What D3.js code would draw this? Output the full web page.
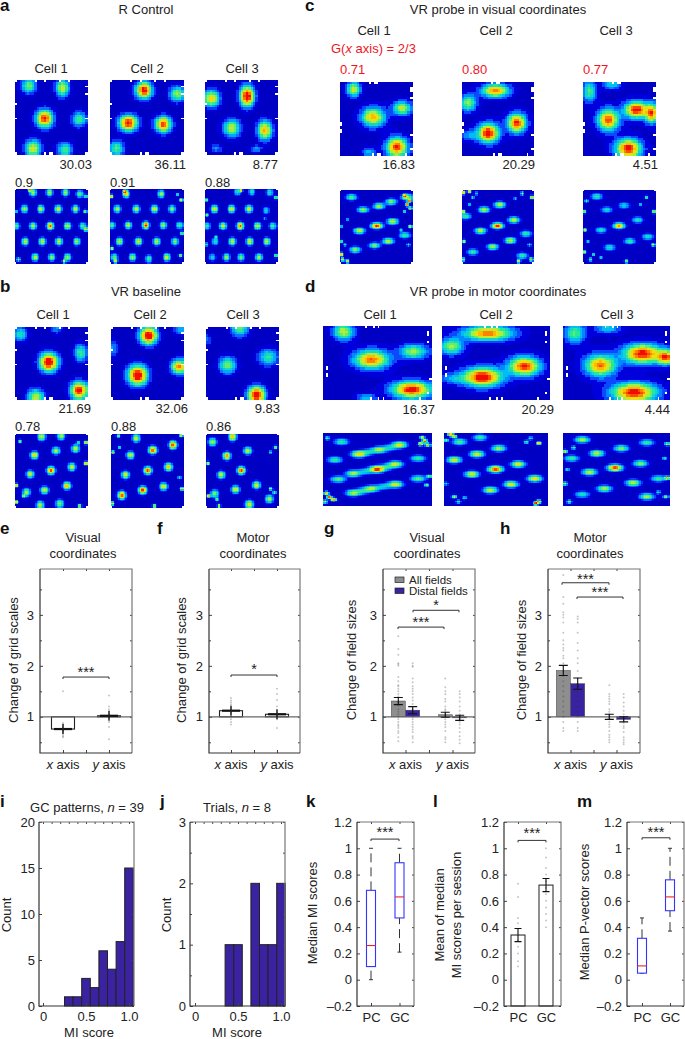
<!DOCTYPE html>
<html><head><meta charset="utf-8">
<script src="https://cdn.jsdelivr.net/npm/d3@7"></script>
<style>
html,body{margin:0;padding:0;background:#fff;overflow:hidden}
svg{display:block}
text{font-family:"Liberation Sans",Arial,sans-serif;font-size:13px;fill:#222}
.letter{font-size:17px;font-weight:700;fill:#111}
</style></head><body>
<svg id="fig" width="685" height="1039"></svg>
<script>
// ---------- heat-map field peaks: [x, y, sx, sy, level]
const aTop1=[[.19,.08,.06,.06,.55],[.66,.11,.055,.07,.7],[.41,.52,.07,.07,1.05],[.89,.53,.06,.06,.5],[.25,.92,.065,.065,.7],[.69,.94,.06,.06,.5]];
const aTop2=[[.465,.14,.065,.065,1.1],[.92,.19,.06,.06,.6],[.25,.58,.075,.065,1.1],[.73,.6,.065,.065,1],[.09,.92,.06,.06,.5]];
const aTop3=[[.09,.25,.065,.065,.8],[.585,.22,.06,.08,1.15],[.37,.65,.07,.07,.65],[.83,.68,.06,.075,.85],[.16,.92,.05,.03,.25],[.71,.93,.05,.03,.25]];
const bTop1=[[.07,.1,.06,.06,.4],[.47,.49,.075,.075,1.2],[.91,.36,.05,.07,.5],[.89,.88,.07,.07,1.1],[.29,.98,.07,.07,.65],[.58,.01,.05,.05,.25]];
const bTop2=[[.52,.12,.07,.07,1.2],[.37,.67,.08,.08,1.2],[.94,.55,.06,.06,.9],[.96,.03,.05,.05,.3],[.03,.3,.04,.07,.25]];
const bTop3=[[.47,.01,.07,.07,.55],[.86,.42,.08,.07,.45],[.3,.53,.07,.07,.55],[.7,.94,.07,.07,1.15],[.02,.18,.03,.05,.2]];
const cTop1=[[.19,.1,.06,.06,.7],[.46,.48,.1,.08,.85],[.86,.36,.08,.06,.65],[.79,.89,.09,.08,1.05],[.4,.96,.06,.04,.3]];
const cTop2=[[.47,.12,.12,.055,.9],[.09,.29,.07,.07,.6],[.37,.7,.09,.08,1.15],[.77,.56,.08,.08,1.05],[.1,.73,.08,.05,.25]];
const cTop3=[[.09,.13,.06,.09,.5],[.4,.02,.08,.05,.4],[.35,.52,.09,.09,1],[.74,.38,.1,.07,1.1],[.95,.43,.05,.08,.9],[.63,.91,.11,.08,1.1]];
const dTop1=[[.19,.08,.06,.07,.65],[.45,.46,.1,.08,.95],[.84,.35,.08,.06,.6],[.82,.87,.11,.07,1.1],[.4,.98,.06,.04,.3]];
const dTop2=[[.43,.1,.14,.06,.95],[.09,.28,.07,.07,.6],[.38,.7,.11,.08,1.15],[.77,.55,.09,.08,1.05],[.1,.72,.08,.05,.25]];
const dTop3=[[.11,.1,.06,.09,.5],[.42,.03,.08,.05,.35],[.35,.54,.09,.09,.95],[.75,.38,.11,.08,1.1],[.97,.43,.05,.06,.9],[.67,.91,.13,.08,1.1]];
// autocorrelation peaks: [x, y, level]
const aAuto1=[[.25,.05,.6],[.48,.05,.6],[.7,.05,.6],[.9,.07,.5],[.13,.27,.6],[.36,.27,.65],[.6,.27,.7],[.84,.27,.65],[.02,.5,.5],[.25,.5,.65],[.49,.5,1],[.73,.5,.7],[.94,.5,.5],[.14,.71,.65],[.38,.71,.65],[.61,.71,.65],[.86,.71,.6],[.28,.92,.65],[.51,.92,.6],[.73,.92,.6]];
const aAuto2=[[.22,.07,.7],[.7,.07,.6],[.1,.27,.6],[.36,.27,.65],[.61,.27,.7],[.85,.27,.55],[.03,.49,.5],[.25,.49,.7],[.49,.49,1],[.73,.49,.65],[.95,.49,.5],[.13,.71,.65],[.39,.71,.7],[.64,.71,.65],[.89,.71,.55],[.06,.92,.5],[.31,.92,.6],[.53,.94,.5],[.78,.92,.7]];
const aAuto3=[[.45,.04,.4],[.65,.04,.4],[.9,.05,.4],[.13,.27,.7],[.37,.27,.7],[.61,.27,.7],[.85,.29,.35],[.03,.5,.45],[.25,.5,.7],[.49,.5,1],[.73,.5,.7],[.94,.5,.5],[.14,.71,.4],[.38,.71,.65],[.62,.71,.7],[.86,.71,.65],[.1,.92,.35],[.3,.92,.6],[.5,.92,.55],[.75,.92,.6]];
const bAuto1=[[.37,.04,.65],[.64,.03,.6],[.27,.29,.75],[.57,.23,.6],[.84,.2,.65],[.21,.55,.65],[.5,.5,1],[.79,.45,.65],[.16,.8,.6],[.41,.77,.65],[.72,.71,.8],[.35,.97,.6],[.62,.95,.55]];
const bAuto2=[[.35,.06,.65],[.86,.15,.95],[.58,.22,.95],[.27,.29,.65],[.8,.45,.8],[.51,.5,1],[.2,.56,.7],[.73,.72,.7],[.44,.77,1],[.15,.84,.95]];
const bAuto3=[[.37,.04,.8],[.09,.11,.6],[.58,.23,.65],[.29,.3,.85],[.49,.5,1],[.21,.56,.65],[.7,.7,.7],[.41,.76,.7],[.12,.82,.55],[.6,.96,.7],[.88,.89,.6]];
const cAuto1=[[.16,.1,.5],[.71,.16,.55],[.32,.27,.6],[.54,.22,.6],[.27,.56,.65],[.51,.49,1],[.73,.43,.65],[.21,.82,.55],[.48,.76,.55],[.67,.7,.65],[.9,.62,.45],[.93,.1,.6]];
const cAuto2=[[.53,.2,.65],[.31,.27,.65],[.05,.36,.45],[.73,.41,.65],[.5,.49,1],[.26,.56,.65],[.68,.69,.65],[.43,.78,.6],[.15,.85,.45],[.9,.6,.45],[.85,.9,.45]];
const cAuto3=[[.19,.09,.45],[.33,.27,.4],[.57,.21,.35],[.25,.55,.4],[.5,.49,.85],[.76,.41,.4],[.65,.7,.45],[.37,.79,.4],[.9,.64,.4]];
const dAuto1=[[.33,.29,.75],[.52,.23,.6],[.71,.16,.7],[.42,.26,.3],[.62,.2,.3],[.11,.37,.45],[.88,.35,.45],[.14,.64,.5],[.28,.56,.6],[.5,.5,1],[.67,.43,.65],[.39,.53,.3],[.59,.47,.3],[.28,.83,.6],[.45,.77,.6],[.67,.71,.7],[.88,.63,.5],[.37,.8,.3],[.56,.74,.3],[.17,.12,.45]];
const dAuto2=[[.32,.29,.7],[.53,.21,.6],[.1,.37,.7],[.72,.43,.7],[.5,.5,1],[.27,.57,.7],[.88,.63,.75],[.65,.71,.7],[.45,.79,.65],[.15,.12,.5],[.35,.06,.45]];
const dAuto3=[[.18,.09,.6],[.32,.28,.65],[.55,.21,.55],[.79,.13,.45],[.08,.35,.45],[.73,.42,.55],[.49,.48,1],[.25,.54,.65],[.66,.69,.65],[.9,.63,.45],[.39,.77,.6],[.18,.85,.4],[.79,.88,.6]];
// hot / noisy pixels along autocorrelation borders: [x, y, level]
const specksA1=[[.2,.01,.9],[.98,.55,.7],[.05,.95,.7],[.97,.3,.6],[.68,.97,.7],[.98,.1,.5],[.02,.3,.4]];
const specksA2=[[.02,.1,.9],[.97,.15,.7],[.96,.9,.7],[.03,.8,.7],[.98,.6,.6],[.08,.97,.6],[.2,.04,.8],[.92,.08,.5]];
const specksA3=[[.02,.15,.6],[.98,.12,.6],[.03,.35,.5],[.02,.75,.5],[.5,.02,.8],[.98,.9,.6],[.15,.65,.35],[.83,.4,.3]];
const specksB1=[[.02,.7,.9],[.98,.4,.9],[.02,.93,.9],[.98,.12,.8],[.9,.98,.7],[.07,.1,.6],[.12,.85,.5],[.88,.12,.5]];
const specksB2=[[.03,.25,.8],[.98,.75,.8],[.02,.95,.9],[.97,.02,.7],[.6,.98,.7],[.12,.18,.5],[.95,.6,.5],[.1,.03,.6]];
const specksB3=[[.03,.4,.7],[.96,.18,.7],[.04,.85,.9],[.9,.75,.7],[.18,.98,.8],[.95,.8,.6],[.9,.25,.5],[.15,.9,.5]];
const specksC1=[[.96,.15,.9],[.93,.2,1],[.02,.88,1],[.04,.95,.9],[.97,.5,.7],[.9,.08,.7],[.1,.97,.7],[.02,.7,.6],[.97,.25,.8],[.9,.3,.5],[.02,.5,.4],[.95,.75,.5],[.07,.75,.4],[.1,.4,.35],[.85,.55,.35]];
const specksC2=[[.02,.04,1],[.1,.02,.9],[.98,.1,.8],[.02,.3,.8],[.03,.7,.7],[.97,.95,.8],[.8,.97,.7],[.15,.1,.5],[.85,.05,.7],[.75,.12,.4],[.02,.95,.7],[.95,.75,.5],[.2,.05,.4],[.1,.2,.4]];
const specksC3=[[.02,.3,.7],[.03,.55,.7],[.02,.85,.7],[.98,.3,.7],[.97,.75,.7],[.1,.95,.6],[.6,.97,.6],[.07,.7,.4],[.14,.88,.5],[.25,.92,.4],[.88,.1,.6],[.8,.2,.4],[.05,.15,.5]];
const specksD1=[[.94,.11,1],[.9,.15,.9],[.97,.16,.9],[.03,.83,1],[.06,.89,1],[.1,.92,.9],[.98,.6,.6],[.92,.06,.7],[.02,.95,.7],[.96,.72,.5],[.04,.07,.5]];
const specksD2=[[.06,.02,1],[.1,.04,.9],[.92,.14,.8],[.02,.1,.6],[.89,.97,1],[.92,.95,.8],[.1,.88,.7],[.8,.12,.5],[.84,.07,.4],[.2,.9,.4],[.14,.95,.5],[.02,.7,.4]];
const specksD3=[[.02,.25,.8],[.98,.15,.7],[.02,.7,.7],[.98,.62,.8],[.97,.88,.6],[.06,.95,.6],[.1,.2,.5],[.04,.5,.4],[.96,.35,.4],[.9,.82,.4]];
// white, unvisited pixels
const maskArena=[[.03,0],[.28,0],[.43,0],[.6,0],[.75,0],[.97,.08],[.97,.18],[.02,.33],[.02,.5],[.42,.98],[.48,.98],[.52,.98],[.97,.98],[.02,.98],[.98,.5]];
const maskProbe=[[.03,.55],[.03,.59],[.03,.65],[.03,.69],[.97,.07],[.97,.13],[.97,.22],[.45,.99],[.5,.99],[.55,.99],[.4,0],[.5,0],[.47,.01],[.97,.9],[.9,.98],[.99,.7]];
// labels
const aPeak=["30.03","36.11","8.77"], bPeak=["21.69","32.06","9.83"], cPeak=["16.83","20.29","4.51"], dPeak=["16.37","20.29","4.44"];
const aScore=["0.9","0.91","0.88"], bScore=["0.78","0.88","0.86"], cScore=["0.71","0.80","0.77"];
const cellNames=["Cell 1","Cell 2","Cell 3"];
// ---------- bar panels
const eMeans=[.76,1.02], fMeans=[1.12,1.05];
const eXPts=[1.5,.88,.85,.83,.8,.78,.77,.76,.75,.75,.74,.73,.72,.7,.68,.65,.62,.6];
const eYPts=[1.42,1.2,1.15,1.1,1.06,1.04,1.03,1.02,1.01,1,.99,.98,.96,.9,.8,.56];
const fXPts=[1.37,1.32,1.28,1.24,1.2,1.17,1.15,1.13,1.12,1.11,1.1,1.08,1.05,1,.95,.9,.85];
const fYPts=[1.55,1.45,1.33,1.2,1.12,1.08,1.06,1.05,1.04,1.03,1.02,1,.98,.95,.78];
const gAllMeans=[1.31,1.04], gDistalMeans=[1.13,.98], gAllErr=[.07,.05], gDistalErr=[.07,.05];
const hAllMeans=[1.91,1], hDistalMeans=[1.65,.95], hAllErr=[.1,.05], hDistalErr=[.11,.05];
const gXAll=[2.58,2.33,2.22,2.05,2.03,2,1.78,1.7,1.62,1.6,1.55,1.5,1.45,1.4,1.3,1.28,1.22,1.15,1.1,1.05,1,.95,.9,.85,.82,.78,.72,.68,.6,.52];
const gXDistal=[2.05,2,1.98,1.75,1.68,1.6,1.55,1.5,1.45,1.38,1.32,1.25,1.15,1.1,1.05,1,.95,.9,.85,.8,.75,.7,.62,.58,.5];
const gYAll=[1.75,1.58,1.5,1.45,1.35,1.3,1.2,1.15,1.12,1.08,1.05,1.02,1,.95,.9,.85,.8,.72,.6,.56,.5];
const gYDistal=[1.5,1.45,1.38,1.3,1.2,1.12,1.05,1.02,1,.98,.95,.9,.85,.78,.7,.62,.55,.48];
const hXAll=[3.78,3.35,3.22,3.05,3,2.95,2.85,2.65,2.5,2.42,2.35,2.3,2.2,2.15,2.05,2,1.9,1.8,1.7,1.6,1.5,1.4,1.3,1.2,1.1,1,.9,.78,.72];
const hXDistal=[2.97,2.92,2.85,2.65,2.45,2.3,2.15,2.05,1.9,1.75,1.65,1.5,1.4,1.3,1.2,1.1,1,.9,.78,.72];
const hYAll=[1.62,1.45,1.4,1.35,1.3,1.25,1.15,1.1,1.05,1.02,1,.97,.95,.9,.85,.8,.72,.65,.6,.55,.5];
const hYDistal=[1.45,1.38,1.28,1.2,1.12,1.05,1,.97,.95,.92,.88,.82,.78,.7,.6,.55,.5,.46];
// ---------- histograms
const iBins=[.25,.35,.45,.55,.65,.75,.85,.95], iCounts=[1,1,3,2,6,4,7,15];
const jBins=[.35,.45,.65,.75,.85,.95], jCounts=[1,1,2,1,1,2];
// ---------- box plots: [low, q1, median, q3, high]
const kPC=[0,.1,.26,.68,1], kGC=[.21,.47,.63,.89,1];
const mPC=[.05,.05,.105,.315,.47], mGC=[.37,.525,.63,.76,1];
const lMeans=[.34,.72], lErr=[.05,.05];
const lPCPts=[.73,.63,.47,.43,.3,.25,.2,.14,.1];
const lGCPts=[1,.93,.85,.8,.75,.7,.65,.6,.55,.5,.45,.4];
const scoreTicks=[-.2,0,.2,.4,.6,.8,1,1.2];

// ---------- drawing
const svg=d3.select("#fig");
svg.append("defs").append("filter").attr("id","soft").attr("x","-5%").attr("y","-5%").attr("width","110%").attr("height","110%")
   .append("feGaussianBlur").attr("stdDeviation",.45);
const jet=d3.scaleLinear()
  .domain([0,.07,.15,.27,.42,.58,.74,.9,1])
  .range(["#0000c4","#0000dc","#0a50ff","#00b8ff","#20e8a0","#a8f040","#ffdc00","#ff6000","#f01000"]).clamp(true);

function label(x,y,s,anchor,cls,fill){
  const t=svg.append("text").attr("x",x).attr("y",y).attr("text-anchor",anchor||"middle").text(s);
  if(cls)t.attr("class",cls); if(fill)t.style("fill",fill); return t;
}
function vlabel(x,y,s){ svg.append("text").attr("transform",`translate(${x},${y}) rotate(-90)`).attr("text-anchor","middle").text(s); }

function heat(box,peaks,o){
  const [x0,x1,y0,y1]=box, nx=o.nx, ny=o.ny, sig=o.sig||1, gain=o.gain||1;
  const X=d3.scaleBand().domain(d3.range(nx)).range([x0,x1]);
  const Y=d3.scaleBand().domain(d3.range(ny)).range([y0,y1]);
  const mask=new Set((o.mask||[]).map(m=>Math.min(nx-1,Math.floor(m[0]*nx))+"_"+Math.min(ny-1,Math.floor(m[1]*ny))));
  const cells=[];
  for(let i=0;i<nx;i++)for(let j=0;j<ny;j++){
    if(mask.has(i+"_"+j))continue;
    const u=(i+.5)/nx,v=(j+.5)/ny;
    if(o.corner){
      const r=o.corner,dx=Math.max(r-u,u-(1-r),0),dy=Math.max(r-v,v-(1-r),0);
      if(dx*dx+dy*dy>r*r)continue;
    }
    let f=0;
    for(const p of peaks){
      const [px,py,sx0,sy0,a]=p, sx=sx0*sig, sy=sy0*sig;
      f+=gain*a*Math.exp(-.5*((u-px)*(u-px)/(sx*sx)+(v-py)*(v-py)/(sy*sy)));
      if(o.halo)f+=gain*a*.16*Math.exp(-.5*((u-px)*(u-px)/(sx*sx*2.4)+(v-py)*(v-py)/(sy*sy*2.4)));
    }
    if(o.steps)f=Math.round(f*o.steps)/o.steps;
    cells.push({i,j,f});
  }
  svg.append("g").attr("filter","url(#soft)").attr("shape-rendering","crispEdges")
    .selectAll("rect").data(cells).join("rect")
    .attr("x",d=>X(d.i)).attr("y",d=>Y(d.j))
    .attr("width",X.bandwidth()+.6).attr("height",Y.bandwidth()+.6)
    .attr("fill",d=>jet(d.f));
}
const autoPeaks=(list,specks,sx,sy)=>list.map(p=>[p[0],p[1],sx,sy,p[2]]).concat(specks.map(s=>[s[0],s[1],.016,.016,s[2]]));
const TOP={nx:30,ny:30,steps:16,sig:1.12,gain:.95}, TOPV={nx:30,ny:30,steps:14,halo:true,gain:.82}, TOPM={nx:44,ny:30,steps:14,halo:true,gain:.82};
const AUTO={nx:50,ny:50,corner:.05};

// Layout of the heat-map panels
const aCols=[[15,87],[110,183],[205,277]], bCols=[[15,87],[111,183],[206,278]], cCols=[[340,412],[462,533],[583,655]];
const dColsT=[[323,431],[442,549],[563,669]], dColsB=[[323,431],[444,547],[563,669]];
[aTop1,aTop2,aTop3].forEach((p,k)=>heat([aCols[k][0],aCols[k][1],80,154],p,{...TOP,mask:maskArena}));
[bTop1,bTop2,bTop3].forEach((p,k)=>heat([bCols[k][0],bCols[k][1],327,399],p,{...TOP,mask:maskArena}));
[cTop1,cTop2,cTop3].forEach((p,k)=>heat([cCols[k][0],cCols[k][1],82,155],p,{...TOPV,mask:maskProbe}));
[dTop1,dTop2,dTop3].forEach((p,k)=>heat([dColsT[k][0],dColsT[k][1],326,399],p,{...TOPM,mask:maskProbe}));
[[aAuto1,specksA1],[aAuto2,specksA2],[aAuto3,specksA3]].forEach((p,k)=>heat([aCols[k][0],aCols[k][1],189,263],autoPeaks(p[0],p[1],.032,.034),AUTO));
[[bAuto1,specksB1],[bAuto2,specksB2],[bAuto3,specksB3]].forEach((p,k)=>heat([bCols[k][0],bCols[k][1],434,507],autoPeaks(p[0],p[1],.037,.036),AUTO));
[[cAuto1,specksC1],[cAuto2,specksC2],[cAuto3,specksC3]].forEach((p,k)=>heat([cCols[k][0],cCols[k][1],190,263],autoPeaks(p[0],p[1],.052,.029),AUTO));
[[dAuto1,specksD1],[dAuto2,specksD2],[dAuto3,specksD3]].forEach((p,k)=>heat([dColsB[k][0],dColsB[k][1],433,505],autoPeaks(p[0],p[1],.046,.031),{nx:64,ny:48,corner:.03}));

// Heat-map text
label(146,14,"R Control");label(146,296,"VR baseline");label(498,14,"VR probe in visual coordinates");label(498,296,"VR probe in motor coordinates");
[51,147,242].forEach((x,k)=>label(x,73,cellNames[k]));
[53,150,243].forEach((x,k)=>label(x,319,cellNames[k]));
[374,496,616].forEach((x,k)=>label(x,35,cellNames[k]));
[380,496,617].forEach((x,k)=>label(x,319,cellNames[k]));
[92,186,278].forEach((x,k)=>label(x,169,aPeak[k],"end"));
[91,188,280].forEach((x,k)=>label(x,413,bPeak[k],"end"));
[415,535,658].forEach((x,k)=>label(x,169,cPeak[k],"end"));
[435,554,670].forEach((x,k)=>label(x,414,dPeak[k],"end"));
[15,110,205].forEach((x,k)=>label(x,187,aScore[k],"start"));
[15,111,206].forEach((x,k)=>label(x,431,bScore[k],"start"));
[340,462,583].forEach((x,k)=>label(x,74,cScore[k],"start",null,"#f0141e"));
{const t=label(331,53,"G(","start",null,"#f0141e");t.append("tspan").attr("font-style","italic").style("fill","#f0141e").text("x");t.append("tspan").style("fill","#f0141e").text(" axis) = 2/3");}

// Panel letters
[["a",0,11],["b",0,292],["c",305,11],["d",305,292],["e",0,534],["f",157,534],["g",324,534],["h",500,534],["i",0,807],["j",160,807],["k",306,807],["l",433,807],["m",577,807]]
 .forEach(d=>label(d[1],d[2],d[0],"start","letter"));

// Axes frames
function frame(b,X,Y,xTicks,xMinor,yTicks,yMinor,xFmt,yFmt,opts={}){
  const g=svg.append("g");
  const [x0,x1,y0,y1]=b;
  const styleAxis=(sel,col)=>{sel.select(".domain").remove();sel.selectAll("line").attr("stroke",col).attr("stroke-width",1);
    sel.selectAll("text").style("font-size","13px").style("font-family",'"Liberation Sans",Arial,sans-serif').style("fill","#222");};
  g.append("g").attr("transform",`translate(0,${y1})`).call(d3.axisBottom(X).tickValues(xTicks).tickSize(-3).tickPadding(opts.xPad||7).tickFormat(xFmt)).call(styleAxis,"#444");
  g.append("g").attr("transform",`translate(0,${y0})`).call(d3.axisTop(X).tickValues(xMinor).tickSize(-2).tickFormat("")).call(styleAxis,"#444");
  g.append("g").attr("transform",`translate(${x0},0)`).call(d3.axisLeft(Y).tickValues(yTicks).tickSize(-3).tickPadding(opts.yPad||5).tickFormat(yFmt)).call(styleAxis,"#444");
  g.append("g").attr("transform",`translate(${x0},0)`).call(d3.axisLeft(Y).tickValues(yMinor).tickSize(-2).tickFormat("")).call(styleAxis,"#444");
  g.append("g").attr("transform",`translate(${x1},0)`).call(d3.axisRight(Y).tickValues(yTicks.concat(yMinor)).tickSize(-2).tickFormat("")).call(styleAxis,"#444");
  return g;
}
function border(b){
  const [x0,x1,y0,y1]=b;
  svg.append("path").attr("d",`M${x0},${y0}H${x1}V${y1}`).attr("fill","none").attr("stroke","#777").attr("stroke-width",1.2);
  svg.append("path").attr("d",`M${x0},${y0}V${y1}H${x1}`).attr("fill","none").attr("stroke","#333").attr("stroke-width",1.2);
}
function bracket(xa,xb,y,stars,starY){
  svg.append("path").attr("d",`M${xa},${y+2}V${y}H${xb}V${y+2}`).attr("fill","none").attr("stroke","#333").attr("stroke-width",1);
  svg.append("text").attr("x",(xa+xb)/2).attr("y",starY).attr("text-anchor","middle").style("font-size","14.5px").text(stars);
}
function dots(x,vals,Y,fill,r){
  svg.append("g").selectAll("circle").data(vals).join("circle")
    .attr("cx",x).attr("cy",d=>Y(d)).attr("r",r||1).attr("fill",fill||"rgba(50,50,50,.28)");
}
function errBar(x,v,e,Y,w){
  const a=Y(v+e),b=Y(v-e);
  svg.append("path").attr("d",`M${x},${a}V${b}M${x-w},${a}H${x+w}M${x-w},${b}H${x+w}`).attr("fill","none").attr("stroke","#111").attr("stroke-width",1.1);
}
const ratioY=()=>d3.scaleLinear().domain([.29,3.9]).range([753,569]);
function xAxisTspans(cx1,cx2){
  [[cx1,"x"],[cx2,"y"]].forEach(d=>{const t=label(d[0],769,"");t.append("tspan").attr("font-style","italic").text(d[1]);t.append("tspan").text(" axis");});
}
function ratioFrame(b,cx1,cx2){
  const X=d3.scaleLinear().domain([1,2]).range([cx1,cx2]),Y=ratioY();
  frame(b,X,Y,[1,1.5,2],[1,1.5,2],[1,2,3],[.5,1.5,2.5,3.5],()=>"",d3.format("d"),{yPad:6});
  xAxisTspans(cx1,cx2);
  return {X,Y};
}
function oneLine(b,Y){svg.append("line").attr("x1",b[0]).attr("x2",b[1]).attr("y1",Y(1)).attr("y2",Y(1)).attr("stroke","#666").attr("stroke-width",1.2);}

// e, f
function singleBars(b,cx1,cx2,means,pts){
  const {X,Y}=ratioFrame(b,cx1,cx2);
  svg.append("g").selectAll("rect").data(means).join("rect")
    .attr("x",(d,i)=>X(i+1)-11.5).attr("width",23)
    .attr("y",d=>Math.min(Y(d),Y(1))).attr("height",d=>Math.abs(Y(d)-Y(1)))
    .attr("fill","#fff").attr("stroke","#222").attr("stroke-width",1.1);
  oneLine(b,Y);
  pts.forEach((p,i)=>dots(X(i+1),p,Y));
  means.forEach((m,i)=>{
    svg.append("path").attr("d",`M${X(i+1)-9},${Y(m)}H${X(i+1)+9}`).attr("stroke","#111").attr("stroke-width",2.2);
    svg.append("path").attr("d",`M${X(i+1)},${Y(m)-5}V${Y(m)+5}`).attr("stroke","#222").attr("stroke-width",1.4);
  });
  border(b);
  return {X,Y};
}
{
  const {Y}=singleBars([40,132,569,753],63,109,eMeans,[eXPts,eYPts]);
  vlabel(18,660,"Change of grid scales");
  label(83,542,"Visual");label(83,558,"coordinates");
  bracket(63,109,Y(1.78),"***",677);
}
{
  const {Y}=singleBars([209,300,569,753],231,277,fMeans,[fXPts,fYPts]);
  vlabel(186,660,"Change of grid scales");
  label(253,542,"Motor");label(253,558,"coordinates");
  bracket(231,277,Y(1.82),"*",674);
}
// g, h
function pairBars(b,cx1,cx2,all,distal,allE,distE,ptsA,ptsD){
  const {X,Y}=ratioFrame(b,cx1,cx2);
  const off=7.2,w=14;
  const draw=(vals,dx,col)=>svg.append("g").selectAll("rect").data(vals).join("rect")
    .attr("x",(d,i)=>X(i+1)+dx-w/2).attr("width",w)
    .attr("y",d=>Math.min(Y(d),Y(1))).attr("height",d=>Math.abs(Y(d)-Y(1)))
    .attr("fill",col).attr("stroke","#444").attr("stroke-width",.5);
  draw(all,-off,"#8e8e8e");draw(distal,off,"#3a22a0");
  oneLine(b,Y);
  ptsA.forEach((p,i)=>dots(X(i+1)-off,p,Y));
  ptsD.forEach((p,i)=>dots(X(i+1)+off,p,Y));
  all.forEach((m,i)=>errBar(X(i+1)-off,m,allE[i],Y,4.5));
  distal.forEach((m,i)=>errBar(X(i+1)+off,m,distE[i],Y,4.5));
  border(b);
  return {X,Y};
}
{
  const {Y}=pairBars([383,475,569,753],405.5,452.5,gAllMeans,gDistalMeans,gAllErr,gDistalErr,[gXAll,gYAll],[gXDistal,gYDistal]);
  vlabel(356,660,"Change of field sizes");
  label(427,542,"Visual");label(427,558,"coordinates");
  bracket(398,444,Y(2.76),"***",627);
  bracket(413,459,Y(3.09),"*",610);
  svg.append("rect").attr("x",395).attr("y",577).attr("width",9).attr("height",5.5).attr("fill","#8e8e8e").attr("stroke","#222").attr("stroke-width",.7);
  svg.append("rect").attr("x",395).attr("y",588).attr("width",9).attr("height",5.5).attr("fill","#3a22a0").attr("stroke","#222").attr("stroke-width",.7);
  label(409,584,"All fields","start").style("font-size","11.5px");label(409,595,"Distal fields","start").style("font-size","11.5px");
}
{
  const {Y}=pairBars([548,640,569,753],570.5,616.5,hAllMeans,hDistalMeans,hAllErr,hDistalErr,[hXAll,hYAll],[hXDistal,hYDistal]);
  vlabel(526,660,"Change of field sizes");
  label(590,542,"Motor");label(590,558,"coordinates");
  bracket(562,609,Y(3.63),"***",584);
  bracket(577,623,Y(3.35),"***",597);
}
// i, j histograms
function hist(b,zeroX,oneX,yMax,yTicks,yMinor,bins,counts,tX,title,n,lblX,cntX){
  const X=d3.scaleLinear().domain([0,1]).range([zeroX,oneX]),Y=d3.scaleLinear().domain([0,yMax]).range([b[3],b[2]]);
  svg.append("g").selectAll("rect").data(counts).join("rect")
    .attr("x",(d,i)=>X(bins[i])).attr("width",X(.1)-X(0))
    .attr("y",d=>Y(d)).attr("height",d=>Y(0)-Y(d))
    .attr("fill","#3a22a0").attr("stroke","#222").attr("stroke-width",1);
  frame(b,X,Y,[0,.5,1],d3.range(0,1.01,.1),yTicks,yMinor,d=>d===1?"1.0":String(d),d3.format("d"),{xPad:6,yPad:4});
  border(b);
  vlabel(cntX,915,"Count");
  label(lblX,1037,"MI score");
  const t=label(tX,812,title);t.append("tspan").attr("font-style","italic").text("n");t.append("tspan").text(" = "+n);
}
hist([39,134,822,1006],43,129,20,[0,5,10,15,20],[],iBins,iCounts,87,"GC patterns, ",39,89,11);
hist([190,285,822,1006],195,281,3,[0,1,2,3],[.5,1.5,2.5],jBins,jCounts,237,"Trials, ",8,237,171);
// k, l, m
const fmtScore=d=>d<0?"\u20130.2":String(+d.toFixed(1));
function scoreFrame(b,cx1,cx2){
  const X=d3.scaleLinear().domain([1,2]).range([cx1,cx2]),Y=d3.scaleLinear().domain([-.2,1.2]).range([b[3],b[2]]);
  frame(b,X,Y,[1,2],[1,2],scoreTicks,[],d=>d===1?"PC":"GC",fmtScore,{xPad:7,yPad:5});
  return {X,Y};
}
function box(X,Y,i,s){
  const cx=X(i),w=4.5,[lo,q1,med,q3,hi]=s;
  svg.append("path").attr("d",`M${cx},${Y(lo)}V${Y(q1)}M${cx},${Y(q3)}V${Y(hi)}`).attr("fill","none").attr("stroke","#333").attr("stroke-width",1).attr("stroke-dasharray","9 5");
  svg.append("path").attr("d",`M${cx-2},${Y(lo)}H${cx+2}M${cx-2},${Y(hi)}H${cx+2}`).attr("stroke","#333").attr("stroke-width",1);
  svg.append("rect").attr("x",cx-w).attr("width",2*w).attr("y",Y(q3)).attr("height",Y(q1)-Y(q3)).attr("fill","#fff").attr("stroke","#3434ff").attr("stroke-width",1.1);
  svg.append("path").attr("d",`M${cx-w},${Y(med)}H${cx+w}`).attr("stroke","#f0202a").attr("stroke-width",1.1);
}
{
  const b=[357,414,822,1006],{X,Y}=scoreFrame(b,371,399.5);
  box(X,Y,1,kPC);box(X,Y,2,kGC);border(b);
  vlabel(317,913,"Median MI scores");
  bracket(371,399,Y(1.07),"***",837);
}
{
  const b=[504,561,822,1006],{X,Y}=scoreFrame(b,518,546);
  svg.append("g").selectAll("rect").data(lMeans).join("rect")
    .attr("x",(d,i)=>X(i+1)-7).attr("width",14)
    .attr("y",d=>Y(d)).attr("height",d=>Y(-.2)-Y(d))
    .attr("fill","#fff").attr("stroke","#333").attr("stroke-width",1.1);
  dots(X(1),lPCPts,Y);dots(X(2),lGCPts,Y);
  lMeans.forEach((m,i)=>errBar(X(i+1),m,lErr[i],Y,3.5));
  border(b);
  vlabel(444,915,"Mean of median");vlabel(461,915,"MI scores per session");
  bracket(518,546,Y(1.06),"***",838);
}
{
  const b=[627,684,822,1006],{X,Y}=scoreFrame(b,642,670);
  box(X,Y,1,mPC);box(X,Y,2,mGC);border(b);
  vlabel(589,912,"Median P-vector scores");
  bracket(642,670,Y(1.08),"***",837);
}
</script></body></html>
